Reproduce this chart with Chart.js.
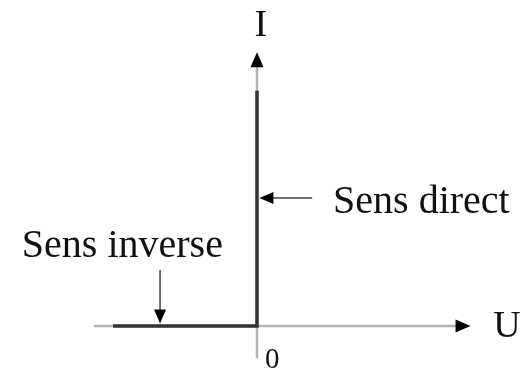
<!DOCTYPE html>
<html>
<head>
<meta charset="utf-8">
<script src="https://cdn.jsdelivr.net/npm/chart.js@4/dist/chart.umd.min.js"></script>
<style>
  html, body { margin: 0; padding: 0; background: #fff; }
  canvas { display: block; }
</style>
</head>
<body>
<canvas id="diodeChart" width="520" height="373"></canvas>
<script>
// ideal diode characteristic I = f(U)
var characteristicU = [-6, 0, 0];
var characteristicI = [0, 0, 9.8];

// axis extents (start, end) in U / I units
var uAxisRange = [-6.8, 8.9];
var iAxisRange = [-1.35, 11.4];

// pointer arrows: [fromU, fromI, toU, toI]
var directPointer = [2.3, 5.33, 0.1, 5.33];
var inversePointer = [-4.04, 2.33, -4.04, 0.1];

// text labels: [text, U, I, fontSize]
var labels = [
    ['I', -0.1, 12.1, 38],
    ['U', 9.85, -0.46, 38],
    ['0', 0.33, -1.75, 29],
    ['Sens direct', 3.17, 4.72, 40],
    ['Sens inverse', -9.8, 2.87, 40]
];

function toPoints(xs, ys) {
    var pts = [];
    for (let i = 0; i < xs.length; i++) {
        pts.push({x: xs[i], y: ys[i]});
    }
    return pts;
}

// lower order is painted on top
function lineSet(data, color, width, order) {
    return {
        data: data,
        showLine: true,
        borderColor: color,
        borderWidth: width,
        pointRadius: 0,
        fill: false,
        tension: 0,
        order: order
    };
}

function arrowHead(ctx, x, y, dx, dy, len, half) {
    var n = Math.sqrt(dx * dx + dy * dy);
    var ux = dx / n, uy = dy / n;
    ctx.beginPath();
    ctx.moveTo(x, y);
    ctx.lineTo(x - ux * len - uy * half, y - uy * len + ux * half);
    ctx.lineTo(x - ux * len + uy * half, y - uy * len - ux * half);
    ctx.closePath();
    ctx.fill();
}

var decorations = {
    id: 'decorations',
    afterDatasetsDraw: function (chart) {
        var ctx = chart.ctx;
        var sx = chart.scales.x, sy = chart.scales.y;
        var px = function (v) { return sx.getPixelForValue(v); };
        var py = function (v) { return sy.getPixelForValue(v); };
        ctx.save();
        ctx.fillStyle = '#000';
        // axis arrow tips
        arrowHead(ctx, px(uAxisRange[1]), py(0), 1, 0, 15, 6.5);
        arrowHead(ctx, px(0), py(iAxisRange[1]), 0, -1, 15, 6.5);
        // pointer tips
        arrowHead(ctx, px(directPointer[2]), py(directPointer[3]),
            directPointer[2] - directPointer[0], 0, 14, 6);
        arrowHead(ctx, px(inversePointer[2]), py(inversePointer[3]),
            0, py(inversePointer[3]) - py(inversePointer[1]), 14, 6);

        ctx.fillStyle = '#111';
        ctx.textBaseline = 'alphabetic';
        ctx.textAlign = 'left';
        labels.forEach(function (l) {
            ctx.font = l[3] + 'px "Liberation Serif", "Times New Roman", serif';
            ctx.fillText(l[0], px(l[1]), py(l[2]));
        });
        ctx.restore();
    }
};

var ctx = document.getElementById('diodeChart');
var chart = new Chart(ctx, {
    type: 'scatter',
    data: {
        datasets: [
            lineSet([{x: uAxisRange[0], y: 0}, {x: uAxisRange[1] - 0.5, y: 0}], '#b4b4b4', 2.5, 3),
            lineSet([{x: 0, y: iAxisRange[0]}, {x: 0, y: iAxisRange[1] - 0.5}], '#b4b4b4', 2.5, 3),
            lineSet(toPoints(characteristicU, characteristicI), '#333333', 3.5, 1),
            lineSet([{x: directPointer[0], y: directPointer[1]}, {x: directPointer[2] + 0.4, y: directPointer[3]}], '#444', 1.5, 2),
            lineSet([{x: inversePointer[0], y: inversePointer[1]}, {x: inversePointer[2], y: inversePointer[3] + 0.4}], '#444', 1.5, 2)
        ]
    },
    options: {
        responsive: false,
        animation: false,
        layout: { padding: 0 },
        plugins: {
            legend: { display: false },
            tooltip: { enabled: false }
        },
        scales: {
            x: { type: 'linear', display: false, min: -10.71, max: 10.96 },
            y: { type: 'linear', display: false, min: -1.96, max: 13.58 }
        }
    },
    plugins: [decorations]
});
</script>
</body>
</html>
